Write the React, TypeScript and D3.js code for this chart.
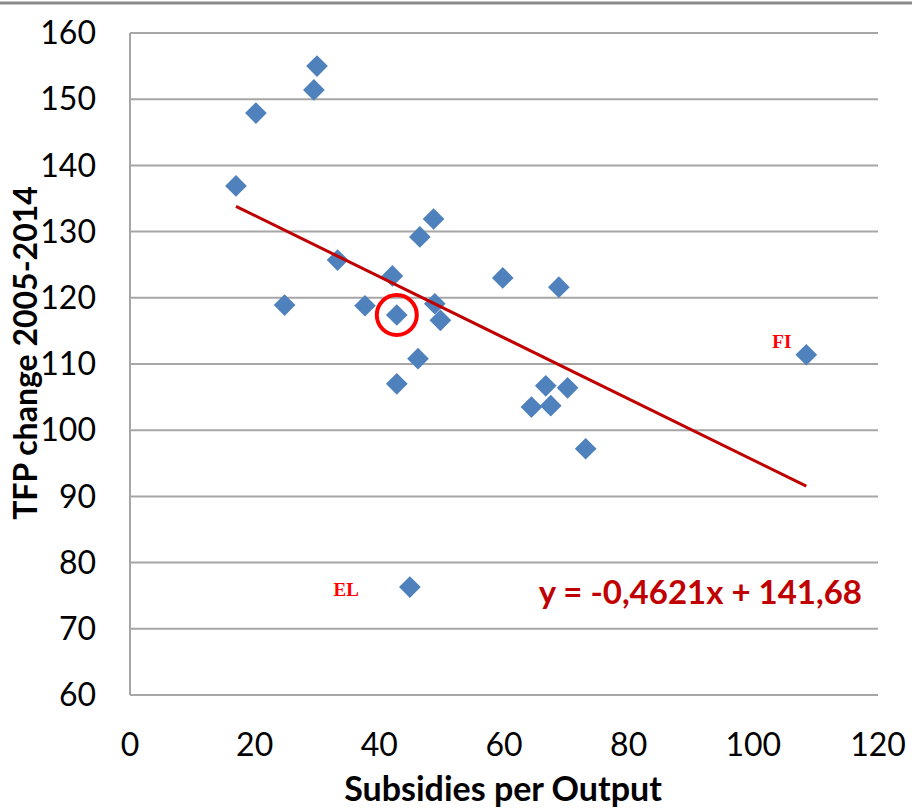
import { useMemo } from 'react';
import * as d3 from 'd3';

// subsidies per output (x) and TFP change 2005-2014 (y)
const subsidies = [17.0, 20.2, 30.0, 29.5, 24.8, 33.3, 37.7, 42.1, 42.8, 42.8, 46.2, 46.5, 48.7, 48.9, 49.8, 59.8, 68.8, 64.4, 66.7, 67.5, 70.2, 73.1, 108.5, 44.9];
const tfpChange = [136.9, 147.9, 155.0, 151.4, 118.9, 125.7, 118.8, 123.3, 117.4, 107.0, 110.8, 129.2, 131.9, 119.1, 116.6, 123.0, 121.6, 103.5, 106.7, 103.7, 106.4, 97.2, 111.4, 76.3];

// labelled countries (index into the arrays above)
const labelNames = ['FI', 'EL'];
const labelIndex = [22, 23];
const circledIndex = 8;

// trend line
const slope = -0.4621;
const intercept = 141.68;
const equation = 'y = -0,4621x + 141,68';

const xTicks = [0, 20, 40, 60, 80, 100, 120];
const yTicks = [60, 70, 80, 90, 100, 110, 120, 130, 140, 150, 160];

const W = 912;
const H = 809;
const font = 'Lato, "Open Sans", sans-serif';
// label offsets from their point (end of text, baseline)
const labelOffsets = [[-15, -7], [-51, 9]];

export default function App() {
  const x = useMemo(() => d3.scaleLinear().domain([0, 120]).range([130, 878]), []);
  const y = useMemo(() => d3.scaleLinear().domain([60, 160]).range([695, 33]), []);

  const diamond = d3.symbol().type(d3.symbolDiamond2).size(300)() as string;

  const xMin = d3.min(subsidies) as number;
  const xMax = d3.max(subsidies) as number;
  const trend = d3.line<number>()
    .x(d => x(d))
    .y(d => y(slope * d + intercept))([xMin, xMax]) as string;

  return (
    <svg width={W} height={H} style={{ position: 'absolute', left: 0, top: 0, background: '#fff' }}>
      <line x1={0} x2={W} y1={3} y2={3} stroke="#8a8a8a" strokeWidth={3} />

      {/* gridlines */}
      {yTicks.map(t => (
        <line key={t} x1={x(0)} x2={x(120)} y1={y(t)} y2={y(t)} stroke="#a6a6a6" strokeWidth={2} />
      ))}
      <line x1={x(0)} x2={x(0)} y1={y(160)} y2={y(60)} stroke="#a6a6a6" strokeWidth={2} />

      {/* tick labels */}
      {yTicks.map(t => (
        <text key={t} x={96} y={y(t)} dy="0.35em" textAnchor="end" fontFamily={font} fontSize={32} fill="#000">{t}</text>
      ))}
      {xTicks.map(t => (
        <text key={t} x={x(t)} y={745} dy="0.35em" textAnchor="middle" fontFamily={font} fontSize={32} fill="#000">{t}</text>
      ))}

      {/* axis titles */}
      <text x={503} y={789} dy="0.35em" textAnchor="middle" fontFamily={font} fontWeight="bold" fontSize={34} fill="#000">Subsidies per Output</text>
      <text transform={`translate(26,${353}) rotate(-90)`} dy="0.35em" textAnchor="middle" fontFamily={font} fontWeight="bold" fontSize={32} fill="#000">TFP change 2005-2014</text>

      {/* points */}
      {subsidies.map((s, i) => (
        <path key={i} d={diamond} transform={`translate(${x(s)},${y(tfpChange[i])})`} fill="#4f81bd" />
      ))}

      {/* trend */}
      <path d={trend} stroke="#c00000" strokeWidth={3} fill="none" />

      {/* highlight */}
      <circle cx={x(subsidies[circledIndex])} cy={y(tfpChange[circledIndex])} r={20} fill="none" stroke="#ff0000" strokeWidth={4} />

      {labelNames.map((n, k) => {
        const i = labelIndex[k];
        return (
          <text key={n} x={x(subsidies[i]) + labelOffsets[k][0]} y={y(tfpChange[i]) + labelOffsets[k][1]} textAnchor="end" fontFamily='"Liberation Serif", "DejaVu Serif", serif' fontWeight="bold" fontSize={19} fill="#ff0000">{n}</text>
        );
      })}

      <text x={862} y={592} dy="0.35em" textAnchor="end" fontFamily={font} fontWeight="bold" fontSize={33} fill="#c00000">{equation}</text>
    </svg>
  );
}
